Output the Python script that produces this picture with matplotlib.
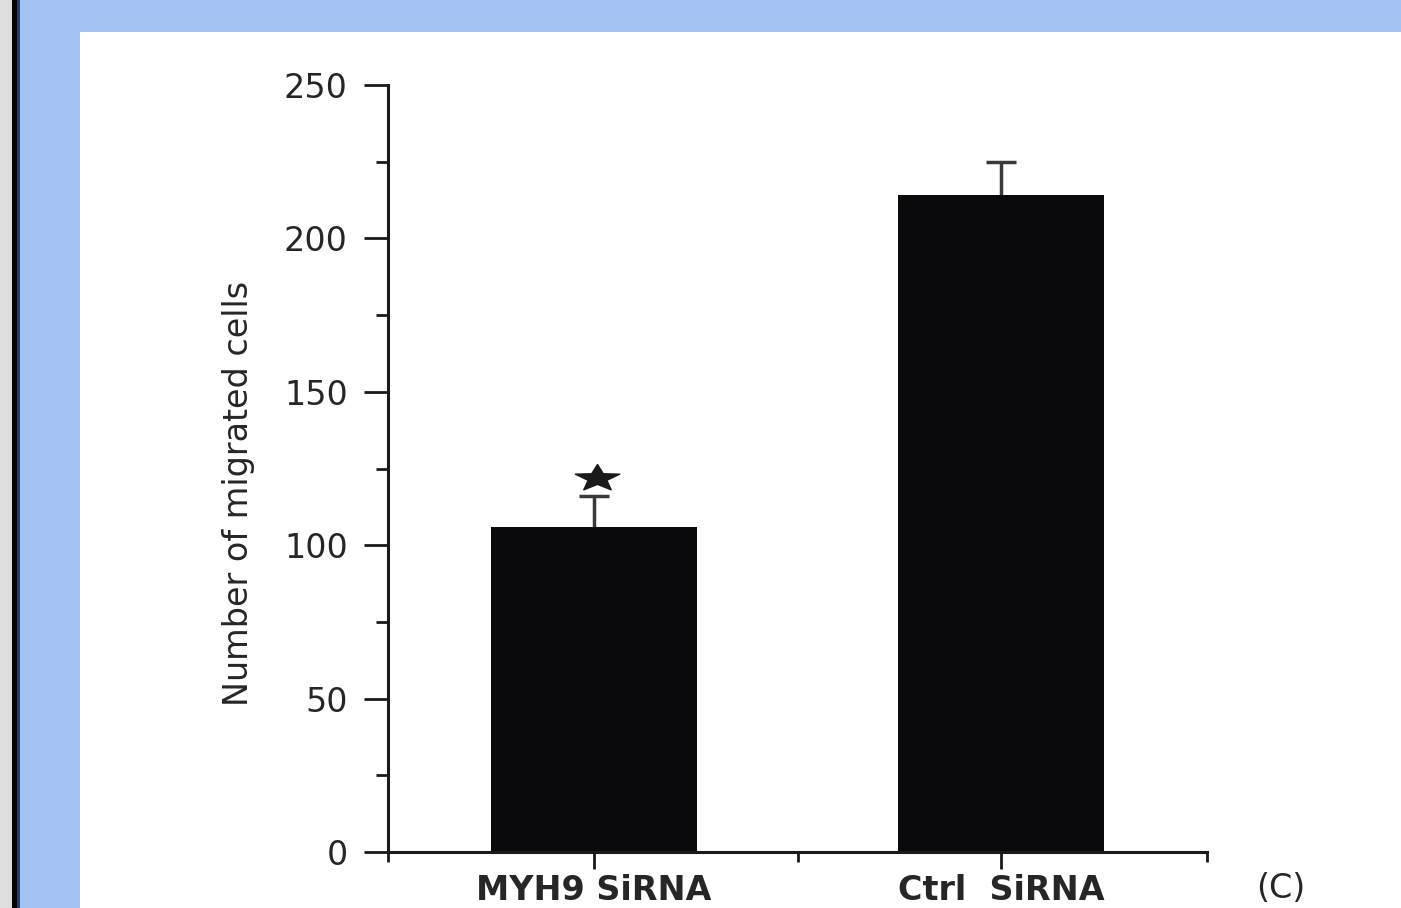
import numpy as np
import matplotlib.pyplot as plt
from matplotlib.patches import Rectangle
from matplotlib.path import Path

# data
groups = ['MYH9 SiRNA', 'Ctrl  SiRNA']
migrated = [106, 214]
err = [10, 11]
y_ticks = [0, 50, 100, 150, 200, 250]
panel_tag = '(C)'

text_col = '#262626'
plt.rcParams['font.family'] = ['DejaVu Sans']

fig = plt.figure(figsize=(14.01, 9.08), dpi=100)
fig.patch.set_facecolor('#a4c2f4')

# frame decorations (left strip and white panel), kept behind the axes
def frame_box(x0, y0, w, h, col):
    fig.patches.append(Rectangle((x0 / 1401, y0 / 908), w / 1401, h / 908,
                                 transform=fig.transFigure, facecolor=col,
                                 edgecolor='none', zorder=-5))

frame_box(0, 0, 12, 908, '#dedede')
frame_box(12, 0, 5, 908, '#050505')
frame_box(17, 0, 3, 908, '#1d3e6e')
frame_box(80, 0, 1321, 908 - 32, 'white')

ax = fig.add_axes([388 / 1401, 56 / 908, (1207 - 388) / 1401, (852 - 85) / 908])
ax.set_facecolor('none')

x = np.arange(len(groups))
# error bars sit behind the bars so only the upper half shows
ax.errorbar(x, migrated, yerr=err, fmt='none',
            ecolor='#3a3a3a', elinewidth=2.5, capsize=11, capthick=2.5, zorder=1)
ax.bar(x, migrated, width=0.505, color='#0a0a0c', zorder=2)

# significance star above the knockdown bar (squashed five-point star)
ang = np.pi / 2 + np.arange(10) * np.pi / 5
rad = np.where(np.arange(10) % 2 == 0, 1.0, 0.42)
star = list(zip(rad * np.cos(ang), 0.6 * rad * np.sin(ang)))
star.append(star[0])
ax.plot([x[0] + 0.008], [migrated[0] + err[0] + 6], marker=Path(star), markersize=32,
        color='#1a1a1a', linestyle='none', zorder=4)

ax.set_xlim(-0.505, 1.505)
ax.set_ylim(0, 250)
ax.set_yticks(y_ticks)
ax.set_yticks(np.arange(25, 250, 50), minor=True)
ax.set_xticks(x)
ax.set_xticks([-0.505, 0.5, 1.505], minor=True)
ax.set_xticklabels(groups)

for s in ['top', 'right']:
    ax.spines[s].set_visible(False)
for s in ['left', 'bottom']:
    ax.spines[s].set_linewidth(2.2)
    ax.spines[s].set_color('#1a1a1a')

ax.tick_params(axis='y', which='major', direction='out', length=17, width=2,
               pad=12, labelsize=24, labelcolor=text_col, color='#1a1a1a')
ax.tick_params(axis='y', which='minor', direction='out', length=9, width=2, color='#1a1a1a')
ax.tick_params(axis='x', which='major', direction='out', length=12, width=2,
               pad=4, labelsize=24, labelcolor=text_col, color='#1a1a1a')
ax.tick_params(axis='x', which='minor', direction='out', length=7, width=2, color='#1a1a1a')
for lab in ax.get_xticklabels():
    lab.set_fontweight('bold')

ax.set_ylabel('Number of migrated cells', fontsize=24, color=text_col)
ax.yaxis.set_label_coords(-0.162, 0.467)

fig.text(1281 / 1401, (908 - 888) / 908, panel_tag, fontsize=24, color=text_col,
         ha='center', va='center')

fig.savefig('out.png', dpi=100, facecolor=fig.get_facecolor())
